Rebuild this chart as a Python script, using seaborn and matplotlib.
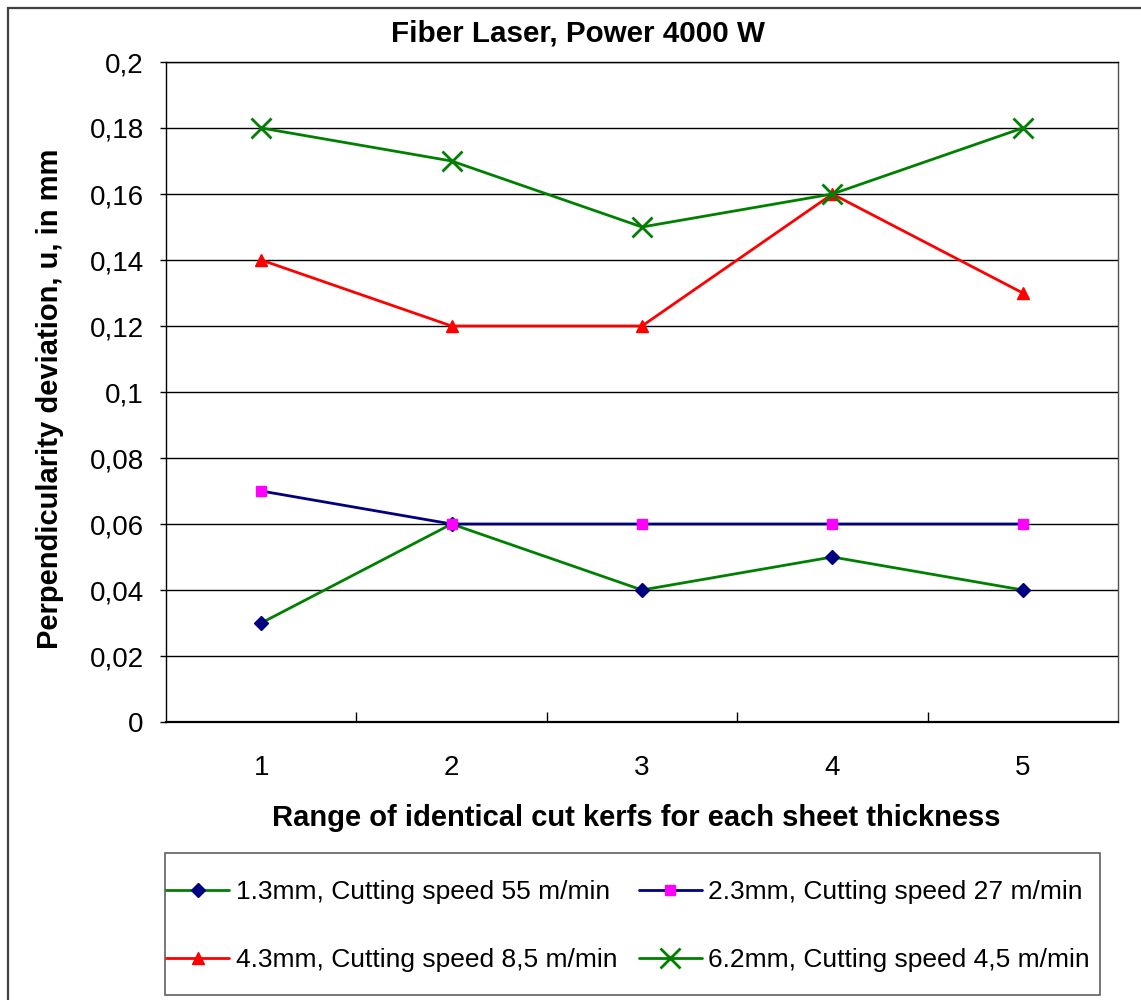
import matplotlib
matplotlib.use("Agg")
import matplotlib.pyplot as plt
from matplotlib.ticker import FuncFormatter, MultipleLocator, FixedLocator
from matplotlib.patches import Rectangle
import seaborn as sns
import pandas as pd

# Data
positions = [1, 2, 3, 4, 5]
labels = [
    "1.3mm, Cutting speed 55 m/min",
    "2.3mm, Cutting speed 27 m/min",
    "4.3mm, Cutting speed 8,5 m/min",
    "6.2mm, Cutting speed 4,5 m/min",
]
dev_13 = [0.03, 0.06, 0.04, 0.05, 0.04]
dev_23 = [0.07, 0.06, 0.06, 0.06, 0.06]
dev_43 = [0.14, 0.12, 0.12, 0.16, 0.13]
dev_62 = [0.18, 0.17, 0.15, 0.16, 0.18]

sns.set_theme(style="white")
plt.rcParams["font.family"] = ["Liberation Sans", "DejaVu Sans"]

W, H = 1141, 1000
fig = plt.figure(figsize=(W / 100, H / 100), dpi=100)
ax = fig.add_axes([166 / W, 1 - 722 / H, (1118 - 166) / W, (722 - 62) / H])

styles = [
    (dev_13, "#008000", "D", "#000080", "#000080", 7.5, 1.0),
    (dev_23, "#000080", "s", "#FF00FF", "#FF00FF", 7, 1.0),
    (dev_43, "#FF0000", "^", "#FF0000", "#FF0000", 8, 1.0),
    (dev_62, "#008000", "x", "#008000", "#008000", 15, 2.0),
]
for (vals, lc, mk, mfc, mec, ms, mew), lab in zip(styles, labels):
    df = pd.DataFrame({"pos": positions, "dev": vals})
    sns.lineplot(data=df, x="pos", y="dev", ax=ax, color=lc, linewidth=2.0,
                 marker=mk, markersize=ms, markerfacecolor=mfc,
                 markeredgecolor=mec, markeredgewidth=mew, label=lab)

ax.set_xlim(0.5, 5.5)
ax.set_ylim(0, 0.2)
ax.yaxis.set_major_locator(MultipleLocator(0.02))
ax.yaxis.set_major_formatter(FuncFormatter(
    lambda v, p: f"{v:.2f}".rstrip("0").rstrip(".").replace(".", ",") if v else "0"))
ax.grid(axis="y", color="black", linewidth=1.0)
ax.grid(axis="x", visible=False)

ax.xaxis.set_major_locator(FixedLocator(positions))
ax.xaxis.set_minor_locator(FixedLocator([1.5, 2.5, 3.5, 4.5]))
ax.tick_params(axis="x", which="major", length=0, pad=24, labelsize=20, colors="black")
ax.tick_params(axis="x", which="minor", direction="in", length=7, width=1, color="black", bottom=True)
ax.tick_params(axis="y", which="major", direction="out", length=4, width=1, color="black",
               left=True, pad=12, labelsize=20, labelcolor="black")

for side, sp in ax.spines.items():
    sp.set_visible(True)
    sp.set_color("black")
    sp.set_linewidth(1.0)
ax.spines["bottom"].set_linewidth(1.6)
ax.spines["right"].set_color("#505050")

ax.set_xlabel("Range of identical cut kerfs for each sheet thickness",
              fontsize=21, fontweight="bold", color="black")
ax.set_ylabel("Perpendicularity deviation, u, in mm",
              fontsize=21, fontweight="bold", color="black")
ax.xaxis.label.set_va("center")
ax.yaxis.label.set_va("center")
ax.xaxis.set_label_coords((636 - 166) / 952, (722 - 818) / 660)
ax.yaxis.set_label_coords((50 - 166) / 952, (722 - 399) / 660)

fig.text(578 / W, 1 - 34 / H, "Fiber Laser, Power 4000 W", ha="center", va="center",
         fontsize=21.3, fontweight="bold", color="black")

handles, labs = ax.get_legend_handles_labels()
ax.get_legend().remove()
order = [0, 2, 1, 3]
leg = fig.legend([handles[i] for i in order], [labs[i] for i in order],
                 ncol=2, loc="center left", bbox_to_anchor=(166 / W, 1 - 926 / H),
                 fontsize=19, frameon=False, borderaxespad=0, borderpad=0,
                 handlelength=2.4, handletextpad=0.25, columnspacing=0.8,
                 labelspacing=1.65)
for t in leg.get_texts():
    t.set_color("black")

# Legend frame
fig.patches.append(Rectangle((165 / W, 1 - 995 / H), (1100 - 165) / W, (995 - 853) / H,
                             transform=fig.transFigure, fill=False,
                             edgecolor="#606060", linewidth=1.2, zorder=0))

# Outer chart frame
fig.patches.append(Rectangle((8 / W, -0.02), 1.05, 1.02 - 8 / H,
                             transform=fig.transFigure, fill=False,
                             edgecolor="#404040", linewidth=1.6, zorder=0))

fig.savefig("out.png", dpi=100)
